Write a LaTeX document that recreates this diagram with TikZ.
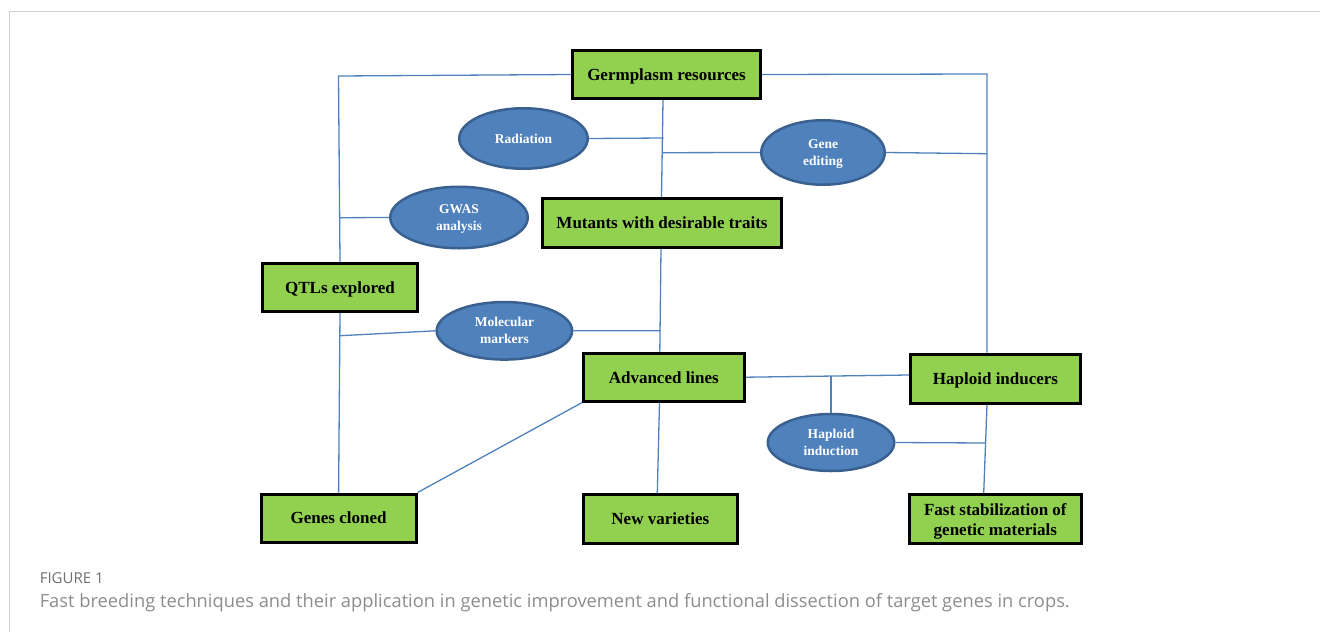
\documentclass[tikz,border=0pt]{standalone}
\usepackage{fontspec}
\setmainfont{Liberation Serif}
\newfontfamily\capfont{Open Sans}
\usetikzlibrary{shapes.geometric}
\definecolor{boxgreen}{HTML}{92D050}
\definecolor{ellfill}{HTML}{4F81BD}
\definecolor{elldraw}{HTML}{3A6090}
\definecolor{linkblue}{HTML}{4F81BD}
\definecolor{framegrey}{HTML}{D0D0D0}
\definecolor{capgrey}{HTML}{8C8C8C}
\definecolor{labgrey}{HTML}{707070}
\tikzset{
  gbox/.style={draw=black, line width=3pt, fill=boxgreen, inner sep=0pt, text depth=0pt,
    font=\fontsize{17}{20.3}\selectfont\bfseries, align=center},
  bell/.style={ellipse, draw=elldraw, line width=2.5pt, fill=ellfill, inner sep=0pt, text depth=0pt,
    text=white, font=\fontsize{13.5}{17}\selectfont\bfseries, align=center},
  link/.style={draw=linkblue, line width=1.3pt},
  captext/.style={anchor=base west, inner sep=0pt}
}
\begin{document}
\begin{tikzpicture}[x=1pt,y=-1pt]
\useasboundingbox (0,0) rectangle (1320,632);
\draw[framegrey, line width=1pt] (9.3,632) -- (9.3,11.7) -- (1320,11.7);

% boxes
\node[gbox, minimum width=188pt, minimum height=48pt] (germ) at (666.5,74.5) {Germplasm resources};
\node[gbox, minimum width=239pt, minimum height=49pt] (mut) at (662,223) {Mutants with desirable traits};
\node[gbox, minimum width=155pt, minimum height=48pt] (qtl) at (340,287.5) {QTLs explored};
\node[gbox, minimum width=161pt, minimum height=48pt] (adv) at (663.8,377.2) {Advanced lines};
\node[gbox, minimum width=170pt, minimum height=49pt] (hi) at (995.5,378.7) {Haploid inducers};
\node[gbox, minimum width=155pt, minimum height=48pt] (gc) at (338.6,518) {Genes cloned};
\node[gbox, minimum width=154.5pt, minimum height=48.4pt] (nv) at (660.3,519) {New varieties};
\node[gbox, minimum width=171.6pt, minimum height=49pt] (fs) at (995.3,519.3) {Fast stabilization of\\genetic materials};

% ellipses
\node[bell, minimum width=128.5pt, minimum height=60.5pt] (rad) at (523.5,138.5) {Radiation};
\node[bell, minimum width=123.5pt, minimum height=64.5pt] (ge) at (823,152.5) {Gene\\editing};
\node[bell, minimum width=137.5pt, minimum height=61.5pt] (gwas) at (459,217.5) {GWAS\\analysis};
\node[bell, minimum width=135.5pt, minimum height=57.5pt] (mm) at (504.4,330.8) {Molecular\\markers};
\node[bell, minimum width=126.5pt, minimum height=57pt] (hin) at (831,442.5) {Haploid\\induction};

% junctions
\coordinate (jTL) at (338.5,76);
\coordinate (jTR) at (987,74);
\coordinate (jR) at (663.5,138);
\coordinate (jG) at (663,152.7);
\coordinate (jGE) at (987,153.7);
\coordinate (jW) at (340,217.7);
\coordinate (jM) at (660.5,330.7);
\coordinate (jML) at (340,335.7);
\coordinate (jH) at (831,376.2);
\coordinate (jHI) at (985.3,443);

% connectors
\draw[link] (germ.west) -- (jTL) -- (qtl.north);
\draw[link] (germ.east) -- (jTR) -- ([xshift=-8.5pt]hi.north);
\draw[link] ([xshift=-3.5pt]germ.south) -- ([xshift=-0.5pt]mut.north);
\draw[link] (rad.east) -- (jR);
\draw[link] (ge.west) -- (jG);
\draw[link] (ge.east) -- (jGE);
\draw[link] (gwas.west) -- (jW);
\draw[link] ([xshift=-1pt]mut.south) -- ([xshift=-4pt]adv.north);
\draw[link] (mm.east) -- (jM);
\draw[link] (mm.west) -- (jML);
\draw[link] (qtl.south) -- (gc.north);
\draw[link] (adv.south west) -- (gc.north east);
\draw[link] ([xshift=-4.3pt]adv.south) -- ([xshift=-3pt]nv.north);
\draw[link] (adv.east) -- ([yshift=3.7pt]hi.west);
\draw[link] (jH) -- (hin.north);
\draw[link] ([xshift=-8.5pt]hi.south) -- ([xshift=-11.6pt]fs.north);
\draw[link] (hin.east) -- (jHI);

% caption
\node[captext, font=\capfont\fontsize{15}{17}\selectfont, text=labgrey] (figlab) at (39.6,583) {FIGURE 1};
\node[captext, font=\capfont\fontsize{18.3}{20}\selectfont, text=capgrey] (cap) at (39.6,607)
  {Fast breeding techniques and their application in genetic improvement and functional dissection of target genes in crops.};
\end{tikzpicture}
\end{document}
